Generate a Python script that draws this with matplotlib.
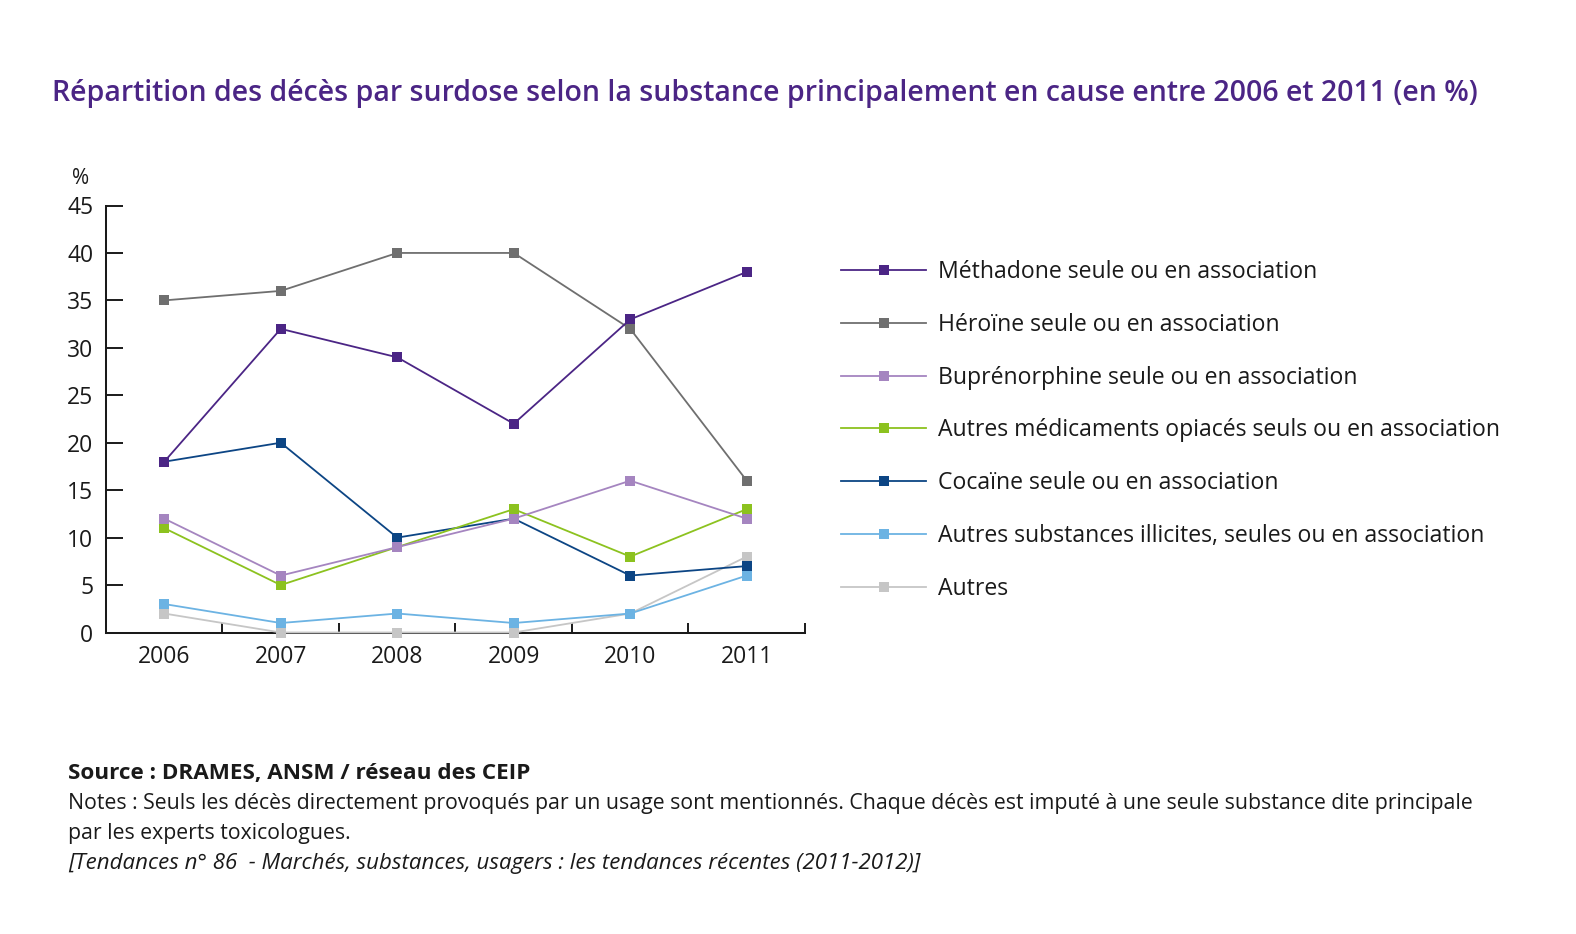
import matplotlib
matplotlib.use("Agg")
import matplotlib.pyplot as plt
import numpy as np

plt.rcParams['font.family'] = ['Open Sans', 'DejaVu Sans']

years = ["2006", "2007", "2008", "2009", "2010", "2011"]
series_names = [
    "Méthadone seule ou en association",
    "Héroïne seule ou en association",
    "Buprénorphine seule ou en association",
    "Autres médicaments opiacés seuls ou en association",
    "Cocaïne seule ou en association",
    "Autres substances illicites, seules ou en association",
    "Autres",
]
methadone = [18, 32, 29, 22, 33, 38]
heroine = [35, 36, 40, 40, 32, 16]
buprenorphine = [12, 6, 9, 12, 16, 12]
autres_medicaments = [11, 5, 9, 13, 8, 13]
cocaine = [18, 20, 10, 12, 6, 7]
autres_illicites = [3, 1, 2, 1, 2, 6]
autres = [2, 0, 0, 0, 2, 8]
y_ticks = [0, 5, 10, 15, 20, 25, 30, 35, 40, 45]

values = [methadone, heroine, buprenorphine, autres_medicaments,
          cocaine, autres_illicites, autres]
colors = ["#4b2585", "#6f6f6f", "#a585c0", "#8cc21f",
          "#0c4584", "#6cb3e3", "#c6c6c6"]

W, H = 1576, 934
fig = plt.figure(figsize=(W / 100, H / 100), dpi=100)
L, R, T, B = 106, 805, 205.5, 632.5
ax = fig.add_axes([L / W, 1 - B / H, (R - L) / W, (B - T) / H])

x = np.arange(len(years))
handles = []
for i in range(len(values) - 1, -1, -1):
    h, = ax.plot(x, values[i], color=colors[i], lw=1.3, marker='s',
                 markersize=7.2, markeredgewidth=0, label=series_names[i],
                 clip_on=False, zorder=3 + (len(values) - i))
    handles.append(h)
handles = handles[::-1]

ax.set_xlim(-0.5, 5.5)
ax.set_ylim(0, 45)
ax.set_yticks(y_ticks)
ax.set_xticks(x)
ax.set_xticklabels(years)
ax.tick_params(axis='x', length=0, labelsize=16.5, pad=9, colors='#1a1a1a')
ax.tick_params(axis='y', direction='in', length=12, width=1.4,
               labelsize=16.5, pad=9, colors='#1a1a1a')
ax.set_xticks(np.arange(0.5, 5.6, 1.0), minor=True)
ax.tick_params(axis='x', which='minor', direction='in', length=7.5, width=1.4,
               color='#1a1a1a')
for s in ['top', 'right']:
    ax.spines[s].set_visible(False)
for s in ['left', 'bottom']:
    ax.spines[s].set_linewidth(1.45)
    ax.spines[s].set_color('#1a1a1a')

fig.text(72 / W, 1 - 178 / H, "%", fontsize=15, ha='left', va='center', color='#1a1a1a')

fig.text(52 / W, 1 - 94 / H,
         "Répartition des décès par surdose selon la substance principalement en cause entre 2006 et 2011 (en %)",
         fontsize=20.5, fontweight='semibold', color='#4b2585', ha='left', va='center')

leg = fig.legend(handles=handles, loc='upper left',
                 bbox_to_anchor=(841 / W, 1 - 260 / H), frameon=False,
                 borderpad=0, borderaxespad=0,
                 fontsize=16.6, handlelength=3.7, handletextpad=0.52,
                 labelspacing=1.25, labelcolor='#1a1a1a')

fig.text(68 / W, 1 - 773 / H, "Source : DRAMES, ANSM / réseau des CEIP",
         fontsize=16.2, fontweight='bold', color='#1a1a1a', ha='left', va='center')
fig.text(68 / W, 1 - 803 / H,
         "Notes : Seuls les décès directement provoqués par un usage sont mentionnés. Chaque décès est imputé à une seule substance dite principale",
         fontsize=15.3, color='#1a1a1a', ha='left', va='center')
fig.text(68 / W, 1 - 833 / H, "par les experts toxicologues.",
         fontsize=15.3, color='#1a1a1a', ha='left', va='center')
fig.text(68 / W, 1 - 863 / H,
         "[Tendances n° 86  - Marchés, substances, usagers : les tendances récentes (2011-2012)]",
         fontsize=16, style='italic', color='#1a1a1a', ha='left', va='center')

fig.savefig("out.png", dpi=100)
